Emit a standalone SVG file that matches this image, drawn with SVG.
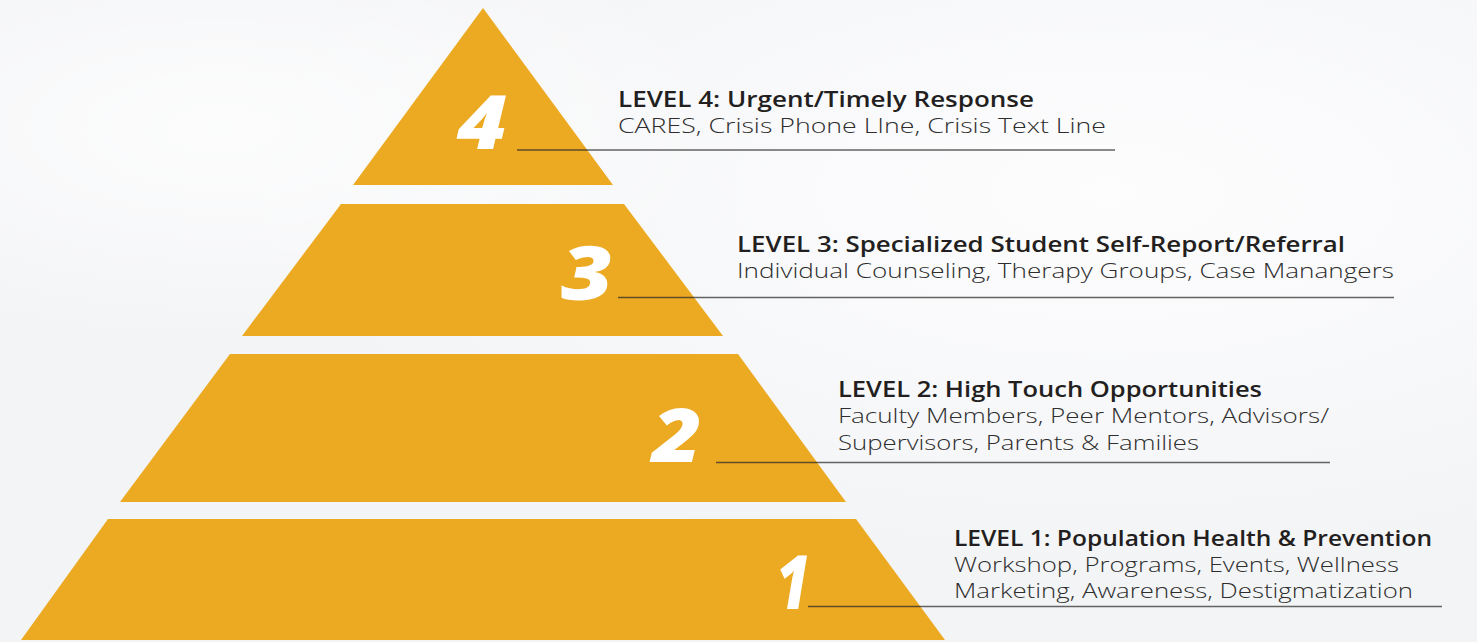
<svg xmlns="http://www.w3.org/2000/svg" width="1477" height="642" viewBox="0 0 1477 642">
  <defs>
    <radialGradient id="bgA" cx="0.75" cy="0.3" r="0.6">
      <stop offset="0" stop-color="#FDFDFE"/>
      <stop offset="1" stop-color="#FDFDFE" stop-opacity="0"/>
    </radialGradient>
    <radialGradient id="bgB" cx="0.15" cy="0.2" r="0.35">
      <stop offset="0" stop-color="#FFFFFF" stop-opacity="0.8"/>
      <stop offset="1" stop-color="#FFFFFF" stop-opacity="0"/>
    </radialGradient>
    <style>
      .tier { fill: #ECA922; }
      .num { font-family: "Open Sans", "Liberation Sans", sans-serif; font-weight: 800; font-style: italic; font-size: 74px; fill: #FFFFFF; text-anchor: end; }
      .title { font-family: "Open Sans", "Liberation Sans", sans-serif; font-weight: 600; font-size: 21px; fill: #231F20; }
      .sub { font-family: "Open Sans", "Liberation Sans", sans-serif; font-weight: 300; font-size: 21px; fill: #2E2E2E; }
      .lead { stroke: #2A2A2A; stroke-opacity: 0.72; stroke-width: 1.4; fill: none; }
    </style>
  </defs>

  <rect x="0" y="0" width="1477" height="642" fill="#F3F4F6"/>
  <rect x="0" y="0" width="1477" height="642" fill="url(#bgA)"/>
  <rect x="0" y="0" width="1477" height="642" fill="url(#bgB)"/>

  <g id="level4">
    <polygon class="tier" points="483,8 613,185 353,185"/>
    <text class="num" x="507" y="149" textLength="50" lengthAdjust="spacingAndGlyphs">4</text>
    <text class="title" x="618" y="107" textLength="416" lengthAdjust="spacingAndGlyphs">LEVEL 4: Urgent/Timely Response</text>
    <text class="sub" x="618" y="133" textLength="488" lengthAdjust="spacingAndGlyphs">CARES, Crisis Phone LIne, Crisis Text Line</text>
  </g>

  <g id="level3">
    <polygon class="tier" points="341,204 624,204 723,336 242,336"/>
    <text class="num" x="613" y="300" textLength="52" lengthAdjust="spacingAndGlyphs">3</text>
    <text class="title" x="737" y="252" textLength="608" lengthAdjust="spacingAndGlyphs">LEVEL 3: Specialized Student Self-Report/Referral</text>
    <text class="sub" x="737" y="278" textLength="657" lengthAdjust="spacingAndGlyphs">Individual Counseling, Therapy Groups, Case Manangers</text>
  </g>

  <g id="level2">
    <polygon class="tier" points="230,354 738,354 846,502 120,502"/>
    <text class="num" x="702" y="462" textLength="50" lengthAdjust="spacingAndGlyphs">2</text>
    <text class="title" x="838" y="397" textLength="424" lengthAdjust="spacingAndGlyphs">LEVEL 2: High Touch Opportunities</text>
    <text class="sub" x="838" y="423" textLength="491" lengthAdjust="spacingAndGlyphs">Faculty Members, Peer Mentors, Advisors/</text>
    <text class="sub" x="838" y="450" textLength="361" lengthAdjust="spacingAndGlyphs">Supervisors, Parents &amp; Families</text>
  </g>

  <g id="level1">
    <polygon class="tier" points="108,519 856,519 945,640 21,640"/>
    <text class="num" x="810" y="609" textLength="34" lengthAdjust="spacingAndGlyphs">1</text>
    <text class="title" x="954" y="546" textLength="478" lengthAdjust="spacingAndGlyphs">LEVEL 1: Population Health &amp; Prevention</text>
    <text class="sub" x="954" y="572" textLength="445" lengthAdjust="spacingAndGlyphs">Workshop, Programs, Events, Wellness</text>
    <text class="sub" x="954" y="598" textLength="459" lengthAdjust="spacingAndGlyphs">Marketing, Awareness, Destigmatization</text>
  </g>

  <g id="connectors">
    <line class="lead" x1="517" y1="150" x2="1115" y2="150"/>
    <line class="lead" x1="618" y1="297.5" x2="1394" y2="297.5"/>
    <line class="lead" x1="716" y1="462.5" x2="1330" y2="462.5"/>
    <line class="lead" x1="808" y1="606.5" x2="1442" y2="606.5"/>
  </g>
</svg>
